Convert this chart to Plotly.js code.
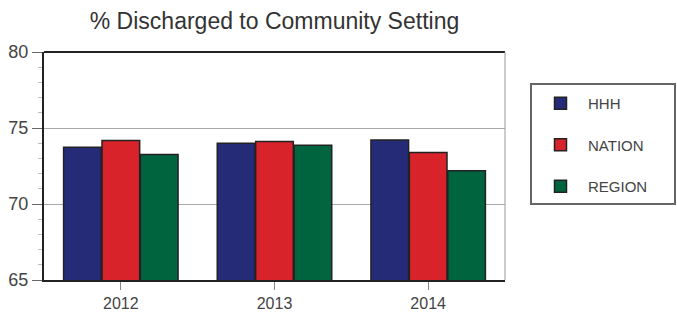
<!DOCTYPE html>
<html>
<head>
<meta charset="utf-8">
<script src="https://cdn.plot.ly/plotly-3.0.1.min.js"></script>
<style>html,body{margin:0;padding:0;background:#fff;}#chart{width:677px;height:317px;}</style>
</head>
<body>
<div id="chart"></div>
<script>
const categories = ['2012', '2013', '2014'];
const seriesNames = ['HHH', 'NATION', 'REGION'];
const hhh = [73.73, 73.99, 74.21];
const nation = [74.17, 74.12, 73.38];
const region = [73.25, 73.86, 72.19];
const colors = ['#262b78', '#d9232b', '#00643f'];
const seriesValues = [hhh, nation, region];

const traces = seriesValues.map((vals, i) => ({
  type: 'bar',
  name: seriesNames[i],
  x: categories,
  y: vals,
  marker: {color: colors[i], line: {color: '#222222', width: 1.5}},
  legendgroup: 'g' + i,
  hoverinfo: 'skip'
}));

const W = 461, H = 228, L = 44, B = 280;
const layout = {
  width: 677, height: 317,
  margin: {l: 44, r: 172, t: 52, b: 37},
  paper_bgcolor: '#ffffff', plot_bgcolor: '#ffffff',
  font: {family: 'Liberation Sans, Arial, sans-serif', color: '#444444'},
  title: {text: '% Discharged to Community Setting', x: 0.5, xref: 'paper', xanchor: 'center',
          y: 1 - 21/317, yref: 'container', yanchor: 'middle',
          font: {size: 23, color: '#333333'}},
  barmode: 'group', bargap: 0.25, bargroupgap: 0.02,
  xaxis: {
    type: 'category', showline: true, linecolor: '#222222', linewidth: 2,
    ticks: 'outside', ticklen: 8, tickcolor: '#888888', tickwidth: 1,
    tickfont: {size: 16, color: '#444444'}, mirror: false, showgrid: false, zeroline: false
  },
  yaxis: {
    range: [65, 80], tickvals: [65, 70, 75, 80], showline: true, linecolor: '#222222', linewidth: 2,
    ticks: 'outside', ticklen: 10, tickcolor: '#666666', tickwidth: 1,
    tickfont: {size: 18, color: '#444444'},
    showgrid: true, gridcolor: '#aaaaaa', gridwidth: 1, zeroline: false,
    minor: {dtick: 1, ticks: 'outside', ticklen: 4, tickcolor: '#bbbbbb', showgrid: false}
  },
  shapes: [
    {type: 'line', xref: 'paper', yref: 'paper', x0: 0, x1: 1, y0: 1, y1: 1, line: {color: '#222222', width: 2}},
    {type: 'line', xref: 'paper', yref: 'paper', x0: 1, x1: 1, y0: 0, y1: 1, line: {color: '#999999', width: 1}},
    {type: 'rect', xref: 'paper', yref: 'paper', layer: 'above',
     x0: (531 - L) / W, x1: (675 - L) / W, y0: (B - 204) / H, y1: (B - 84) / H,
     line: {color: '#666666', width: 2}, fillcolor: 'rgba(0,0,0,0)'}
  ],
  showlegend: true,
  legend: {
    x: (533 - L) / W, xanchor: 'left', y: (B - 87) / H, yanchor: 'top',
    borderwidth: 0, bgcolor: 'rgba(0,0,0,0)',
    font: {size: 15, color: '#444444'}, tracegroupgap: 19, itemwidth: 45,
    itemclick: false
  }
};

Plotly.newPlot('chart', traces, layout, {displayModeBar: false, staticPlot: true});
</script>
</body>
</html>
